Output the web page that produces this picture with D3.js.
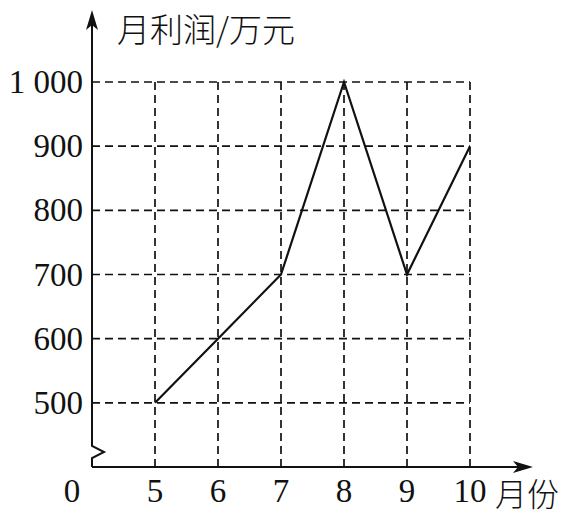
<!DOCTYPE html>
<html><head><meta charset="utf-8">
<script src="https://cdn.jsdelivr.net/npm/d3@7"></script>
<style>body{margin:0;background:#fff}</style>
</head><body>
<script>
const months = [5, 6, 7, 8, 9, 10];
const profits = [500, 600, 700, 1000, 700, 900];
const yTicks = [500, 600, 700, 800, 900, 1000];
const yTickLabels = ["500", "600", "700", "800", "900", "1 000"];
const xTickLabels = ["5", "6", "7", "8", "9", "10"];
const yTitle = "月利润/万元";
const xTitle = "月份";

const W = 567, H = 516;
const svg = d3.select("body").append("svg").attr("width", W).attr("height", H);
const x = d3.scaleLinear().domain([4, 10]).range([92, 470]);
const y = d3.scaleLinear().domain([400, 1000]).range([467, 82]);
const serif = "'Liberation Serif','DejaVu Serif',serif";
const cjk = "'Noto Sans CJK SC',sans-serif";
const ox = x(4), oy = y(400);
const FS = 33;

// grid
const g = svg.append("g").attr("stroke", "#111").attr("stroke-width", 1.7).attr("stroke-dasharray", "8,5");
g.selectAll("line.h").data(yTicks).join("line")
  .attr("x1", ox).attr("x2", x(10)).attr("y1", d => y(d)).attr("y2", d => y(d));
g.selectAll("line.v").data(months).join("line")
  .attr("x1", d => x(d)).attr("x2", d => x(d)).attr("y1", y(1000)).attr("y2", oy);

// axes
const ax = svg.append("g").attr("stroke", "#111").attr("stroke-width", 2).attr("fill", "none");
ax.append("path").attr("d", `M${ox},${oy} L${ox},${oy-9} L${ox+12},${oy-15} L${ox},${oy-21} L${ox},22`);
ax.append("line").attr("x1", ox).attr("x2", 522).attr("y1", oy).attr("y2", oy);
svg.append("path").attr("d", `M${ox},10 L${ox-6},30 L${ox},25 L${ox+6},30 Z`).attr("fill", "#111");
svg.append("path").attr("d", `M533,${oy} L513,${oy-6} L518,${oy} L513,${oy+6} Z`).attr("fill", "#111");

// data line
const line = d3.line().x(d => x(d[0])).y(d => y(d[1]));
svg.append("path").datum(months.map((m, i) => [m, profits[i]]))
  .attr("d", line).attr("fill", "none").attr("stroke", "#111").attr("stroke-width", 2.2);

// y labels
svg.selectAll("text.yl").data(yTicks).join("text")
  .attr("x", 83).attr("y", d => y(d) + 11).attr("text-anchor", "end")
  .attr("font-family", serif).attr("font-size", FS).attr("fill", "#111")
  .text((d, i) => yTickLabels[i]);
// x labels
svg.selectAll("text.xl").data(months).join("text")
  .attr("x", d => x(d)).attr("y", 502).attr("text-anchor", "middle")
  .attr("font-family", serif).attr("font-size", FS).attr("fill", "#111")
  .text((d, i) => xTickLabels[i]);
svg.append("text").attr("x", 72).attr("y", 502).attr("text-anchor", "middle")
  .attr("font-family", serif).attr("font-size", FS).attr("fill", "#111").text("0");

svg.append("text").attr("x", 117).attr("y", 42).attr("font-family", cjk).attr("font-size", 33)
  .attr("font-weight", 300).attr("fill", "#111").text(yTitle);
svg.append("text").attr("x", 495).attr("y", 506).attr("font-family", cjk).attr("font-size", 32)
  .attr("font-weight", 300).attr("fill", "#111").text(xTitle);
</script>
</body></html>
